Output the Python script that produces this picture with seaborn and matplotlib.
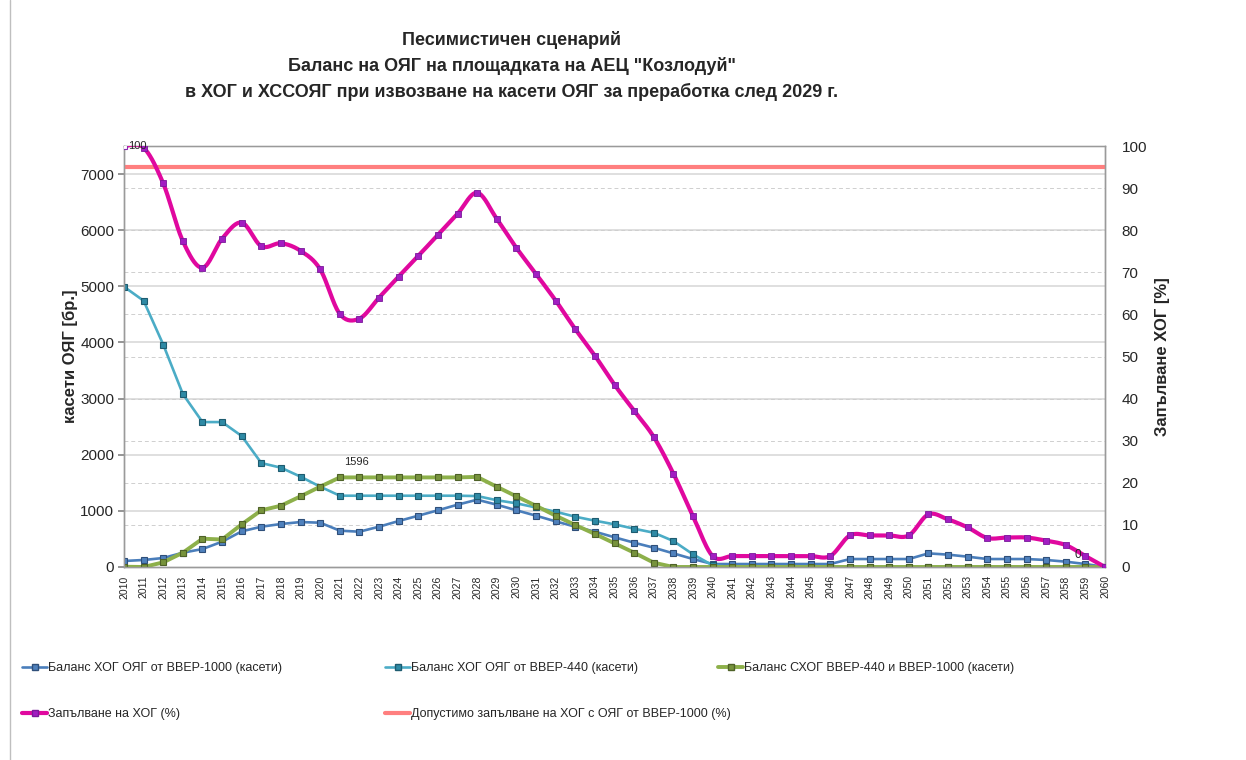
import numpy as np
import pandas as pd
import matplotlib
matplotlib.use("Agg")
import matplotlib.pyplot as plt
from matplotlib.lines import Line2D
import seaborn as sns

years = list(range(2010, 2061))

# Баланс ХОГ ОЯГ от ВВЕР-1000 (касети)
vver1000 = [107, 125, 160, 255, 320, 451, 635, 718, 766, 801,
            789, 647, 629, 718, 819, 914, 1010, 1110, 1199, 1110,
            1010, 914, 813, 718, 629, 529, 433, 344, 243, 142,
            53, 53, 53, 53, 53, 53, 53, 142, 142, 142,
            142, 243, 220, 184, 142, 142, 142, 125, 95, 53, 0]
# Баланс ХОГ ОЯГ от ВВЕР-440 (касети)
vver440 = [4993, 4743, 3962, 3081, 2582, 2582, 2333, 1852, 1769, 1609,
           1431, 1270, 1270, 1270, 1270, 1270, 1270, 1270, 1264, 1190,
           1134, 1060, 985, 896, 825, 760, 682, 611, 463, 226,
           30, 0, 0, 0, 0, 0, 0, 0, 0, 0,
           0, 0, 0, 0, 0, 0, 0, 0, 0, 0, 0]
# Баланс СХОГ ВВЕР-440 и ВВЕР-1000 (касети)
shog = [5, 0, 83, 255, 504, 490, 760, 1010, 1092, 1259,
        1431, 1596, 1596, 1596, 1596, 1596, 1596, 1596, 1605, 1430,
        1258, 1090, 914, 748, 588, 422, 255, 77, 0, 0,
        0, 0, 0, 0, 0, 0, 0, 0, 0, 0,
        0, 0, 0, 0, 0, 0, 0, 0, 0, 0, 0]
# Запълване на ХОГ (%)
fill_pct = [100, 99.6, 91.1, 77.4, 71.1, 78.0, 81.8, 76.2, 76.9, 75.1,
            70.7, 60.1, 59.0, 64.0, 69.0, 73.9, 78.9, 83.9, 88.9, 82.7,
            75.8, 69.6, 63.3, 56.5, 50.2, 43.3, 37.1, 30.9, 22.2, 12.1,
            2.6, 2.6, 2.6, 2.6, 2.6, 2.6, 2.6, 7.5, 7.5, 7.5,
            7.5, 12.5, 11.3, 9.4, 6.9, 7.0, 7.0, 6.25, 5.2, 2.6, 0]
# Допустимо запълване на ХОГ с ОЯГ от ВВЕР-1000 (%)
allowed_pct = 95

title_lines = ["Песимистичен сценарий",
               "Баланс на ОЯГ на площадката на АЕЦ \"Козлодуй\"",
               "в ХОГ и ХССОЯГ при извозване на касети ОЯГ за преработка след 2029 г."]
labels = ["Баланс ХОГ ОЯГ от ВВЕР-1000 (касети)",
          "Баланс ХОГ ОЯГ от ВВЕР-440 (касети)",
          "Баланс СХОГ ВВЕР-440 и ВВЕР-1000 (касети)",
          "Запълване на ХОГ (%)",
          "Допустимо запълване на ХОГ с ОЯГ от ВВЕР-1000 (%)"]

df = pd.DataFrame({"year": years, "v1000": vver1000, "v440": vver440,
                   "shog": shog, "fill": fill_pct})

sns.set_theme(style="white")
plt.rcParams["font.family"] = ["Liberation Sans", "DejaVu Sans"]
narrow = ["Liberation Sans Narrow", "Liberation Sans", "DejaVu Sans"]

fig = plt.figure(figsize=(12.46, 7.6), dpi=100)
ax = fig.add_axes([124 / 1246, 1 - 567 / 760, (1105 - 124) / 1246, (567 - 146) / 760])
ax2 = ax.twinx()

# grid: solid for left axis, dashed for the right-axis ticks
for v in range(1000, 8000, 1000):
    ax.axhline(v, color="#D9D9D9", lw=1.2, zorder=0)
for p in range(10, 100, 10):
    ax.axhline(p * 75, color="#CFCFCF", lw=0.7, ls=(0, (4, 3)), zorder=0)

ms = 4.6
sns.lineplot(data=df, x="year", y="v1000", ax=ax, color="#4A7EBB", lw=1.9,
             marker="s", markersize=ms, markerfacecolor="#4F81BD",
             markeredgecolor="#2F4F7A", markeredgewidth=0.8, zorder=3)
sns.lineplot(data=df, x="year", y="v440", ax=ax, color="#4BACC6", lw=1.9,
             marker="s", markersize=ms, markerfacecolor="#2E8AA5",
             markeredgecolor="#1E5C70", markeredgewidth=0.8, zorder=4)
sns.lineplot(data=df, x="year", y="shog", ax=ax, color="#8DB04A", lw=2.8,
             marker="s", markersize=ms, markerfacecolor="#77933C",
             markeredgecolor="#4F6228", markeredgewidth=0.8, zorder=5)

# smooth line for fill percentage (Bezier through the points, like Excel)
x = np.array(years, dtype=float)
y = np.array(fill_pct, dtype=float)
xs, ys = [], []
n = len(x)
for i in range(n - 1):
    p0 = np.array([x[max(i - 1, 0)], y[max(i - 1, 0)]])
    p1 = np.array([x[i], y[i]])
    p2 = np.array([x[i + 1], y[i + 1]])
    p3 = np.array([x[min(i + 2, n - 1)], y[min(i + 2, n - 1)]])
    c1 = p1 + (p2 - p0) / 6
    c2 = p2 - (p3 - p1) / 6
    t = np.linspace(0, 1, 20)[:, None]
    seg = (1 - t) ** 3 * p1 + 3 * (1 - t) ** 2 * t * c1 + 3 * (1 - t) * t ** 2 * c2 + t ** 3 * p2
    xs.extend(seg[:, 0]); ys.extend(seg[:, 1])
smooth = pd.DataFrame({"x": xs, "y": ys})
sns.lineplot(data=smooth, x="x", y="y", ax=ax2, color="#E0089F", lw=3.0,
             sort=False, zorder=3)
ax2.plot(df["year"][1:], df["fill"][1:], ls="none", marker="s", markersize=ms,
         markerfacecolor="#A21DC2", markeredgecolor="#7A1A9A", markeredgewidth=0.6, zorder=4)
ax2.plot(df["year"][:1], df["fill"][:1], ls="none", marker="s", markersize=4,
         markerfacecolor="white", markeredgecolor="#8A2BB0", markeredgewidth=0.8, zorder=4)
ax2.axhline(allowed_pct, color="#FF7F7F", lw=3.0, zorder=2)

# data labels
ax2.text(years[0] + 0.2, fill_pct[0], "100", fontsize=8, va="center", ha="left",
         family=narrow, zorder=6)
ax.text(years[11] + 0.2, shog[11] + 280, "1596", fontsize=8, ha="left", va="center",
        family=narrow)
ax2.text(years[49] - 0.55, fill_pct[49] + 0.2, "0", fontsize=8.5, ha="left", va="center",
         family=narrow, zorder=6)

ax.set_xlim(2010, 2060)
ax.set_ylim(0, 7500)
ax2.set_ylim(0, 100)
ax.set_xticks(years)
ax.set_xticklabels([str(yy) for yy in years], rotation=90, fontsize=7.5, family=narrow)
ax.set_yticks(range(0, 8000, 1000))
ax.tick_params(axis="y", labelsize=11, direction="out", length=4, color="#888888", pad=3)
ax.tick_params(axis="x", direction="out", length=4, color="#888888", pad=2)
ax2.set_yticks(range(0, 101, 10))
ax2.tick_params(axis="y", labelsize=11, direction="out", length=0, pad=12)
ax.set_xlabel("")
ax.set_ylabel("касети ОЯГ [бр.]", fontsize=12, fontweight="bold", labelpad=2)
ax2.set_ylabel("Запълване ХОГ [%]", fontsize=12, fontweight="bold", labelpad=6,
               family=narrow)
for a in (ax, ax2):
    for s in a.spines.values():
        s.set_color("#9A9A9A")
        s.set_linewidth(1.0)
ax.spines["top"].set_color("#C8C8C8")

# title
for i, line in enumerate(title_lines):
    fig.text(512 / 1246, 1 - (40 + i * 26) / 760, line, ha="center", va="center",
             fontsize=13, fontweight="bold", family=narrow)

# legend, laid out in columns as in the original
def handle(color, lw, face, edge):
    return Line2D([], [], color=color, lw=lw, marker="s", markersize=4,
                  markerfacecolor=face, markeredgecolor=edge)

h1 = handle("#4A7EBB", 1.9, "#4F81BD", "#2F4F7A")
h2 = handle("#4BACC6", 1.9, "#2E8AA5", "#1E5C70")
h3 = handle("#8DB04A", 2.8, "#77933C", "#4F6228")
h4 = handle("#E0089F", 3.0, "#A21DC2", "#7A1A9A")
h5 = Line2D([], [], color="#FF7F7F", lw=3.0)

legend_kw = dict(frameon=False, handlelength=2.0, handletextpad=0.1,
                 labelspacing=2.75, borderpad=0, borderaxespad=0, loc="upper left",
                 prop={"family": narrow, "size": 9})
fig.legend([h1, h4], [labels[0], labels[3]], bbox_to_anchor=(22 / 1246, 1 - 662 / 760), **legend_kw)
fig.legend([h2, h5], [labels[1], labels[4]], bbox_to_anchor=(385 / 1246, 1 - 662 / 760), **legend_kw)
fig.legend([h3], [labels[2]], bbox_to_anchor=(718 / 1246, 1 - 662 / 760), **legend_kw)

# chart area border on the left
fig.add_artist(Line2D([10 / 1246, 10 / 1246], [0, 1], color="#BFBFBF", lw=1.0))

fig.savefig("out.png", dpi=100)
